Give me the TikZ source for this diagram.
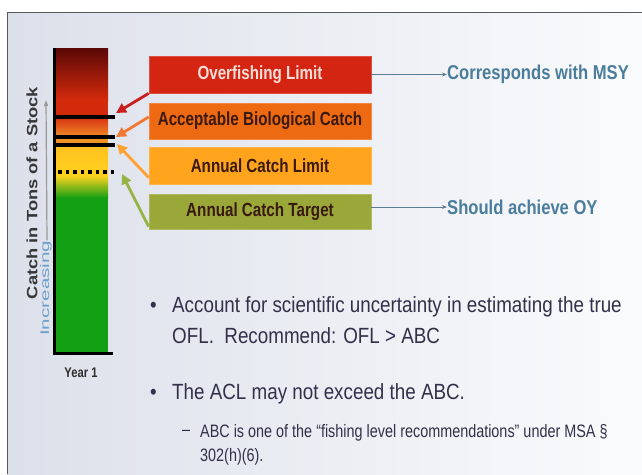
\documentclass[tikz,border=0pt]{standalone}
\usepackage{fontspec}
\setmainfont{Liberation Sans}
\newfontfamily\boxfont{Liberation Sans}[FakeStretch=0.8]
\newfontfamily\lblfont{Liberation Sans}[FakeStretch=0.83]
\newfontfamily\bulfont{Liberation Sans}[FakeStretch=0.855]
\newfontfamily\subfont{Liberation Sans}[FakeStretch=0.8]
\usetikzlibrary{arrows.meta}
\definecolor{bgL}{HTML}{DCE0EA}
\definecolor{bgR}{HTML}{FAFBFC}
\definecolor{cRed}{HTML}{D42412}
\definecolor{cOrg}{HTML}{EE6A12}
\definecolor{cLor}{HTML}{FFA41C}
\definecolor{cOlv}{HTML}{9AA83A}
\definecolor{txtD}{HTML}{3A1A10}
\definecolor{lblB}{HTML}{4A7C9C}
\definecolor{bulT}{HTML}{33304A}
\definecolor{barMaroon}{RGB}{90,8,6}
\definecolor{barRed}{RGB}{212,42,12}
\definecolor{barRed2}{RGB}{214,48,16}
\definecolor{barOrg}{RGB}{240,140,40}
\definecolor{barOrg2}{RGB}{240,146,36}
\definecolor{barYel}{RGB}{255,192,32}
\definecolor{barYel2}{RGB}{255,210,30}
\definecolor{barYG}{RGB}{170,200,30}
\definecolor{barGrn}{RGB}{20,160,20}
\definecolor{pRed}{RGB}{200,30,30}
\definecolor{pOrg}{RGB}{240,120,50}
\definecolor{pLor}{RGB}{255,160,50}
\definecolor{pOlv}{RGB}{150,180,70}
\definecolor{ylabC}{RGB}{55,55,55}
\definecolor{incC}{RGB}{110,160,205}
\definecolor{yearC}{RGB}{45,45,45}
\definecolor{oflT}{RGB}{248,222,216}
\tikzset{
  box/.style={minimum width=222pt, minimum height=36pt, inner sep=0pt, draw=#1!80!white, line width=0.8pt, fill=#1, font=\boxfont\bfseries\fontsize{19}{22}\selectfont, text=txtD},
  pointer/.style={line width=2.8pt, -{Triangle[length=10pt,width=10pt]}},
  sidearrow/.style={draw=lblB!70!gray, line width=0.9pt, -{Stealth[length=5pt,width=4pt]}},
  sidelbl/.style={anchor=west, inner sep=0pt, text=lblB, font=\lblfont\bfseries\fontsize{20}{24}\selectfont},
  bultxt/.style={anchor=west, inner sep=0pt, text=bulT, font=\bulfont\fontsize{22}{26}\selectfont},
  subtxt/.style={anchor=west, inner sep=0pt, text=bulT, font=\subfont\fontsize{18}{21}\selectfont},
  barline/.style={line width=3.8pt, black}
}
\begin{document}
\begin{tikzpicture}[x=1pt,y=-1pt]
\useasboundingbox (0,0) rectangle (642,474);
\fill[white] (0,0) rectangle (642,474);
\shade[left color=bgL, right color=bgR] (7,12) rectangle (642,474);
\draw[gray!70!black, line width=1pt] (7,474) -- (7,12) -- (642,12);

% bar
\shade[top color=barMaroon, bottom color=barRed] (55,48) rectangle (108,100);
\fill[barRed] (55,99.5) rectangle (108,117);
\shade[top color=barRed2, bottom color=barOrg] (55,117) rectangle (108,137);
\fill[barOrg2] (55,136.5) rectangle (108,145.5);
\shade[top color=barYel, bottom color=barYel2] (55,145) rectangle (108,176);
\shade[top color=barYel2, middle color=barYG, bottom color=barGrn] (55,175.5) rectangle (108,198);
\fill[barGrn] (55,197.5) rectangle (108,352);

\draw[barline] (55,117) -- (115,117);
\draw[barline] (55,137) -- (115,137);
\draw[barline] (55,145) -- (115,145);
\draw[black, line width=3.6pt, dash pattern=on 3.5pt off 4pt] (58,172) -- (116,172);
\draw[black, line width=3pt] (54.5,48) -- (54.5,353.5) -- (113,353.5);

\coordinate (tOFL) at (116,113);
\coordinate (tABC) at (116,137);
\coordinate (tACL) at (117,144);
\coordinate (tACT) at (122,174);

% axis labels
\node[rotate=90, inner sep=0pt, text=ylabC, font=\bfseries\fontsize{15}{18}\selectfont] (ylab) at (32,193) {\scalebox{1.22}[1]{Catch in Tons of a Stock}};
\node[rotate=90, inner sep=0pt, anchor=west, text=incC, font=\fontsize{12.5}{15}\selectfont] (incr) at (46,336) {\scalebox{1.65}[1]{Increasing}};
\draw[gray!80, line width=1.2pt, -{Triangle[length=6pt,width=4pt]}] ([xshift=1pt]incr.east) -- (46,100);
\node[inner sep=0pt, text=yearC, font=\boxfont\bfseries\fontsize{14}{16}\selectfont] (year) at (81,373) {Year 1};

% boxes
\node[box=cRed, text=oflT, minimum height=37pt] (ofl) at (260,74.5) {Overfishing Limit};
\node[box=cOrg] (abc) at (260,121) {Acceptable Biological Catch};
\node[box=cLor, minimum height=37pt] (acl) at (260,165.5) {Annual Catch Limit};
\node[box=cOlv, minimum height=35pt] (act) at (260,211.5) {Annual Catch Target};

\draw[pointer, pRed] (ofl.south west) -- (tOFL);
\draw[pointer, pOrg] ([yshift=4pt]abc.west) -- (tABC);
\draw[pointer, pLor] ([yshift=-12pt]acl.west) -- (tACL);
\draw[pointer, pOlv] ([yshift=-15pt]act.west) -- (tACT);

\node[sidelbl] (msy) at (447,74.5) {Corresponds with MSY};
\node[sidelbl] (oy) at (447,207) {Should achieve OY};
\draw[sidearrow] (ofl.east) -- (msy.west);
\draw[sidearrow] (act.east |- oy.west) -- (oy.west);

% bullets
\node[bultxt] (b1) at (150,307) {•};
\node[bultxt] (l1) at (172,307) {Account for scientific uncertainty in estimating the true};
\node[bultxt] (l2) at (172,336) {OFL.\ \ Recommend: OFL > ABC};
\node[bultxt] (b2) at (150,394) {•};
\node[bultxt] (l3) at (172,394) {The ACL may not exceed the ABC.};
\node[subtxt] (d1) at (182,433) {–};
\node[subtxt] (l4) at (200,433) {ABC is one of the “fishing level recommendations” under MSA §};
\node[subtxt] (l5) at (200,457) {302(h)(6).};
\end{tikzpicture}
\end{document}
